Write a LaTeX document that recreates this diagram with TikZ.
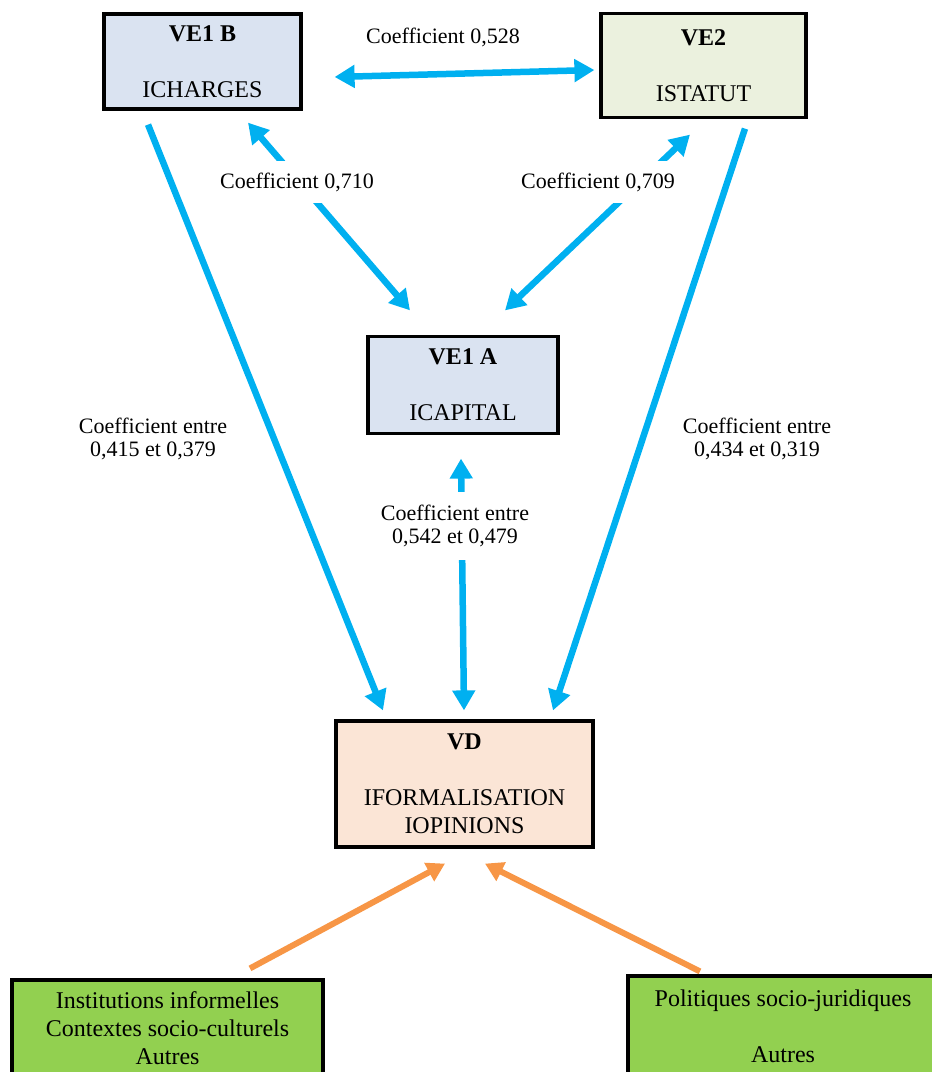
\documentclass[tikz,border=0pt]{standalone}
\usepackage{fontspec}
\setmainfont{Liberation Serif}
\usetikzlibrary{arrows.meta,calc}
\definecolor{arrblue}{HTML}{00B0F0}
\definecolor{arrorange}{HTML}{F79646}
\definecolor{fillblue}{HTML}{DAE3F1}
\definecolor{fillolive}{HTML}{EBF1DE}
\definecolor{fillpeach}{HTML}{FBE5D6}
\definecolor{fillgreen}{HTML}{92D050}
\begin{document}
\begin{tikzpicture}[x=1pt,y=-1pt,
  box/.style={draw=black,line width=3.2pt,align=center,inner sep=0pt,
    font=\fontsize{24}{28}\selectfont},
  lab/.style={align=center,inner sep=1pt,font=\fontsize{22}{23}\selectfont},
  hid/.style={lab,fill=white,inner xsep=2pt},
  barrow/.style={draw=arrblue,line width=6.5pt,-{Triangle[length=20pt,width=22pt]}},
  bdbl/.style={draw=arrblue,line width=6.5pt,{Triangle[length=20pt,width=22pt]}-{Triangle[length=20pt,width=22pt]}},
  oarrow/.style={draw=arrorange,line width=6pt,-{Triangle[length=18pt,width=20pt]}}]
\useasboundingbox (0,0) rectangle (932,1072);

% boxes
\node[box,fill=fillblue,minimum width=197pt,minimum height=95pt] (ve1b) at (202.5,61.5)
  {\textbf{VE1 B}\\[28pt]ICHARGES};
\node[box,fill=fillolive,minimum width=205pt,minimum height=104pt] (ve2) at (703.5,65.5)
  {\textbf{VE2}\\[28pt]ISTATUT};
\node[box,fill=fillblue,minimum width=190pt,minimum height=97pt] (ve1a) at (463,385)
  {\textbf{VE1 A}\\[28pt]ICAPITAL};
\node[box,fill=fillpeach,minimum width=257pt,minimum height=126pt] (vd) at (464.5,784)
  {\textbf{VD}\\[28pt]IFORMALISATION\\IOPINIONS};
\node[box,fill=fillgreen,minimum width=311pt,minimum height=96pt] (bl) at (167.5,1028)
  {Institutions informelles\\Contextes socio-culturels\\Autres};
\node[box,fill=fillgreen,minimum width=310pt,minimum height=100pt] (br) at (783,1026)
  {Politiques socio-juridiques\\[28pt]Autres};

% blue connectors
\draw[bdbl] ($(ve1b.east)+(32,15.5)$) -- ($(ve2.west)+(-5,4.5)$);
\draw[bdbl] ($(ve1b.south)+(45.5,12)$) -- ($(ve1a.north)+(-53,-24.5)$);
\draw[bdbl] ($(ve2.south)+(-13.5,15.5)$) -- ($(ve1a.north)+(42,-24.5)$);
\draw[barrow] ($(ve1b.south)+(-54.5,14)$) -- ($(vd.north)+(-81.5,-9)$);
\draw[barrow] ($(ve2.south)+(41.5,9.5)$) -- ($(vd.north)+(88.5,-9)$);
\draw[bdbl] ($(ve1a.south)+(-2,23.5)$) -- ($(vd.north)+(-0.5,-9)$);

% orange connectors
\draw[oarrow] ($(bl.north)+(82.5,-10)$) -- ($(vd.south)+(-19.5,15)$);
\draw[oarrow] ($(br.north)+(-83,-3)$) -- ($(vd.south)+(20.5,15)$);

% labels
\node[lab] (l528) at (443,37) {Coefficient 0,528};
\node[hid,inner ysep=12pt] (l710) at (297,182) {Coefficient 0,710};
\node[hid,inner ysep=12pt] (l709) at (598,182) {Coefficient 0,709};
\node[lab] (l415) at (153,439) {Coefficient entre\\0,415 et 0,379};
\node[lab] (l434) at (757,439) {Coefficient entre\\0,434 et 0,319};
\node[hid,inner ysep=13pt] (l542) at (455,526) {Coefficient entre\\0,542 et 0,479};
\end{tikzpicture}
\end{document}
